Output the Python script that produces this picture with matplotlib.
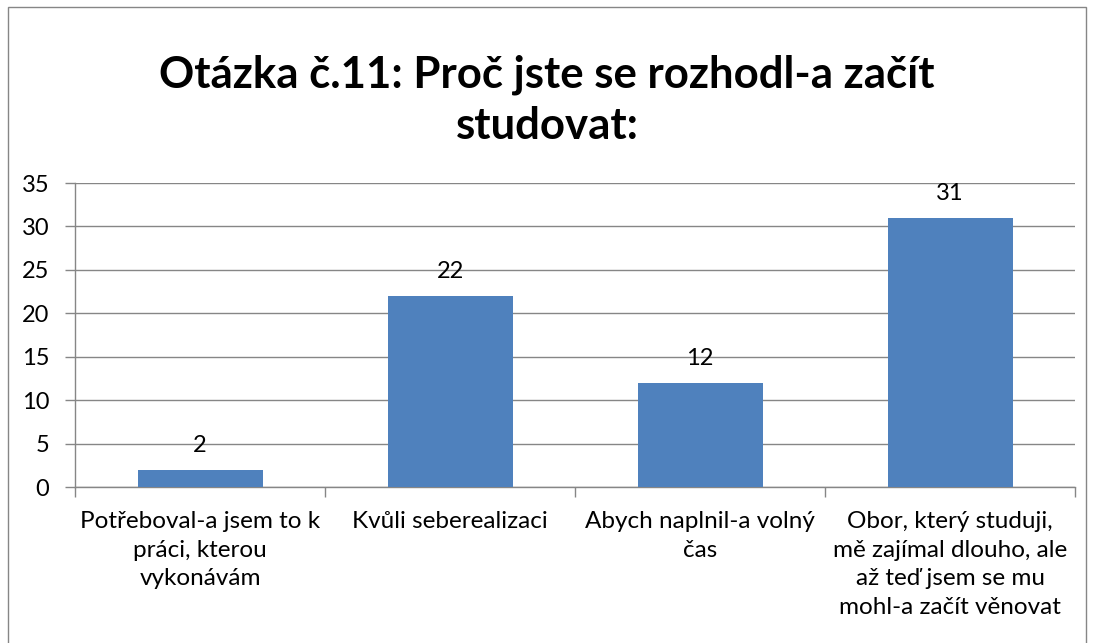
import matplotlib
matplotlib.use("Agg")
import matplotlib.pyplot as plt
from matplotlib.patches import Rectangle

categories = [
    "Potřeboval-a jsem to k\npráci, kterou\nvykonávám",
    "Kvůli seberealizaci",
    "Abych naplnil-a volný\nčas",
    "Obor, který studuji,\nmě zajímal dlouho, ale\naž teď jsem se mu\nmohl-a začít věnovat",
]
values = [2, 22, 12, 31]
yticks = [0, 5, 10, 15, 20, 25, 30, 35]
title = "Otázka č.11: Proč jste se rozhodl-a začít\nstudovat:"

plt.rcParams['font.family'] = ['Lato', 'DejaVu Sans']

fig = plt.figure(figsize=(10.94, 6.43), dpi=100)
fig.patch.set_facecolor("white")
# outer chart border
fig.add_artist(Rectangle((8/1094, -0.05), (1086-8)/1094, 1.05 - 7/643,
                         transform=fig.transFigure, fill=False,
                         edgecolor="#868686", linewidth=1.0))

ax = fig.add_axes([75/1094, 1-487/643, 1000/1094, (487-183)/643])
grid_c = "#868686"
x = list(range(len(values)))
bars = ax.bar(x, values, width=0.5, color="#4F81BD", zorder=3)
for xi, v in zip(x, values):
    ax.text(xi, v + 1.6, str(v), ha="center", va="bottom", fontsize=17, color="black")

ax.set_xlim(-0.5, len(values) - 0.5)
ax.set_ylim(0, 35)
ax.set_yticks(yticks)
ax.set_yticklabels([str(t) for t in yticks], fontsize=17)
ax.yaxis.grid(True, color=grid_c, linewidth=1.0, zorder=0)
ax.set_axisbelow(True)
for s in ["top", "right"]:
    ax.spines[s].set_visible(False)
for s in ["left", "bottom"]:
    ax.spines[s].set_color(grid_c)
    ax.spines[s].set_linewidth(1.0)
ax.tick_params(axis="y", length=7, color=grid_c, width=1.0, pad=11.5)

# category boundaries as x ticks
ax.set_xticks([i - 0.5 for i in range(len(values) + 1)])
ax.set_xticklabels([])
ax.tick_params(axis="x", length=7, color=grid_c, width=1.0)
for xi, lab in zip(x, categories):
    ax.text(xi, -0.08, lab, transform=ax.get_xaxis_transform(), ha="center", va="top",
            fontsize=17.5, linespacing=1.44)

fig.text(0.5, 1 - 100/643, title, ha="center", va="center", fontsize=31.5,
         fontweight="bold", linespacing=1.32)

fig.savefig("out.png", dpi=100, facecolor="white")
